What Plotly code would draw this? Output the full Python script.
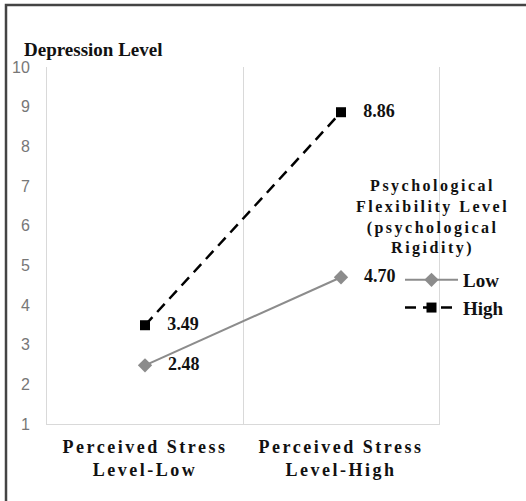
import plotly.graph_objects as go

# ---- data ----
categories = ["Perceived Stress<br>Level-Low", "Perceived Stress<br>Level-High"]
cat_pos = [0.5, 1.5]
low_values = [2.48, 4.70]
high_values = [3.49, 8.86]
series_names = ["Low", "High"]
y_ticks = list(range(1, 11))
y_title = "Depression Level"
legend_title = "Psychological<br>Flexibility Level<br>(psychological<br>Rigidity)"

SERIF = "Liberation Serif, Times New Roman, serif"
SANS = "Liberation Sans, Arial, sans-serif"

W, H = 526, 501
L, R, T, B = 47, 439, 67, 424  # plot area in px


def px_x(p):
    return (p - L) / (R - L)


def px_y(p):
    return (B - p) / (B - T)


def spaced(s, sp):
    return "<span style='letter-spacing:%spx'>%s</span>" % (sp, s)


fig = go.Figure()

fig.add_trace(go.Scatter(
    x=cat_pos, y=low_values, name=series_names[0],
    mode="lines+markers+text",
    line=dict(color="#8c8c8c", width=2),
    marker=dict(symbol="diamond", size=11, color="#8c8c8c"),
    text=["%.2f" % v for v in low_values],
    texttemplate="\u2002\u2004%{text}",
    textposition="middle right",
    textfont=dict(family=SERIF, size=18, color="#111111", weight="bold"),
))
fig.add_trace(go.Scatter(
    x=cat_pos, y=high_values, name=series_names[1],
    mode="lines+markers+text",
    line=dict(color="#000000", width=2.5, dash="11px,7px"),
    marker=dict(symbol="square", size=10, color="#000000"),
    text=["%.2f" % v for v in high_values],
    texttemplate="\u2002\u2004%{text}",
    textposition="middle right",
    textfont=dict(family=SERIF, size=18, color="#111111", weight="bold"),
))

fig.update_layout(
    width=W, height=H,
    margin=dict(l=L, r=W - R, t=T, b=H - B, pad=0, autoexpand=False),
    paper_bgcolor="white", plot_bgcolor="white",
    showlegend=True,
    legend=dict(
        x=px_x(400), y=px_y(261), xanchor="left", yanchor="top",
        bgcolor="rgba(0,0,0,0)",
        font=dict(family=SERIF, size=19, color="#111111", weight="bold"),
        itemwidth=53,
    ),
    xaxis=dict(
        range=[0, 2], tickvals=cat_pos,
        ticktext=[spaced(c, 2.5) for c in categories],
        tickfont=dict(family=SERIF, size=18, color="#111111", weight="bold"),
        showgrid=False, zeroline=False, automargin=False,
        showline=True, linecolor="#d9d9d9", linewidth=1,
        ticks="", ticklabelstandoff=6,
        minor=dict(tickvals=[1], showgrid=True, gridcolor="#d9d9d9", gridwidth=1, ticks=""),
        fixedrange=True,
    ),
    yaxis=dict(
        range=[1, 10], tickvals=y_ticks,
        tickfont=dict(family=SANS, size=16, color="#777777"),
        showgrid=False, zeroline=False, automargin=False,
        showline=True, mirror=True, linecolor="#d9d9d9", linewidth=1,
        ticks="", ticklabelstandoff=13,
        fixedrange=True,
    ),
)

fig.add_annotation(
    text="<b>%s</b>" % y_title, xref="paper", yref="paper",
    x=px_x(22), y=px_y(50), xanchor="left", yanchor="middle",
    showarrow=False, font=dict(family=SERIF, size=19, color="#111111"),
)
fig.add_annotation(
    text="<b>%s</b>" % spaced(legend_title, 2.5), xref="paper", yref="paper",
    x=px_x(432), y=px_y(217), xanchor="center", yanchor="middle",
    showarrow=False, align="center",
    font=dict(family=SERIF, size=16, color="#111111"),
)

# outer frame (cropped on right and bottom)
fig.add_shape(
    type="rect", xref="paper", yref="paper",
    x0=px_x(6), x1=px_x(540), y0=px_y(520), y1=px_y(5),
    line=dict(color="#444444", width=2.5), fillcolor="rgba(0,0,0,0)",
    layer="above",
)

fig.write_html(
    "out.html",
    config={"displayModeBar": False},
    post_script="document.body.style.margin='0';document.body.style.overflow='hidden';",
)
